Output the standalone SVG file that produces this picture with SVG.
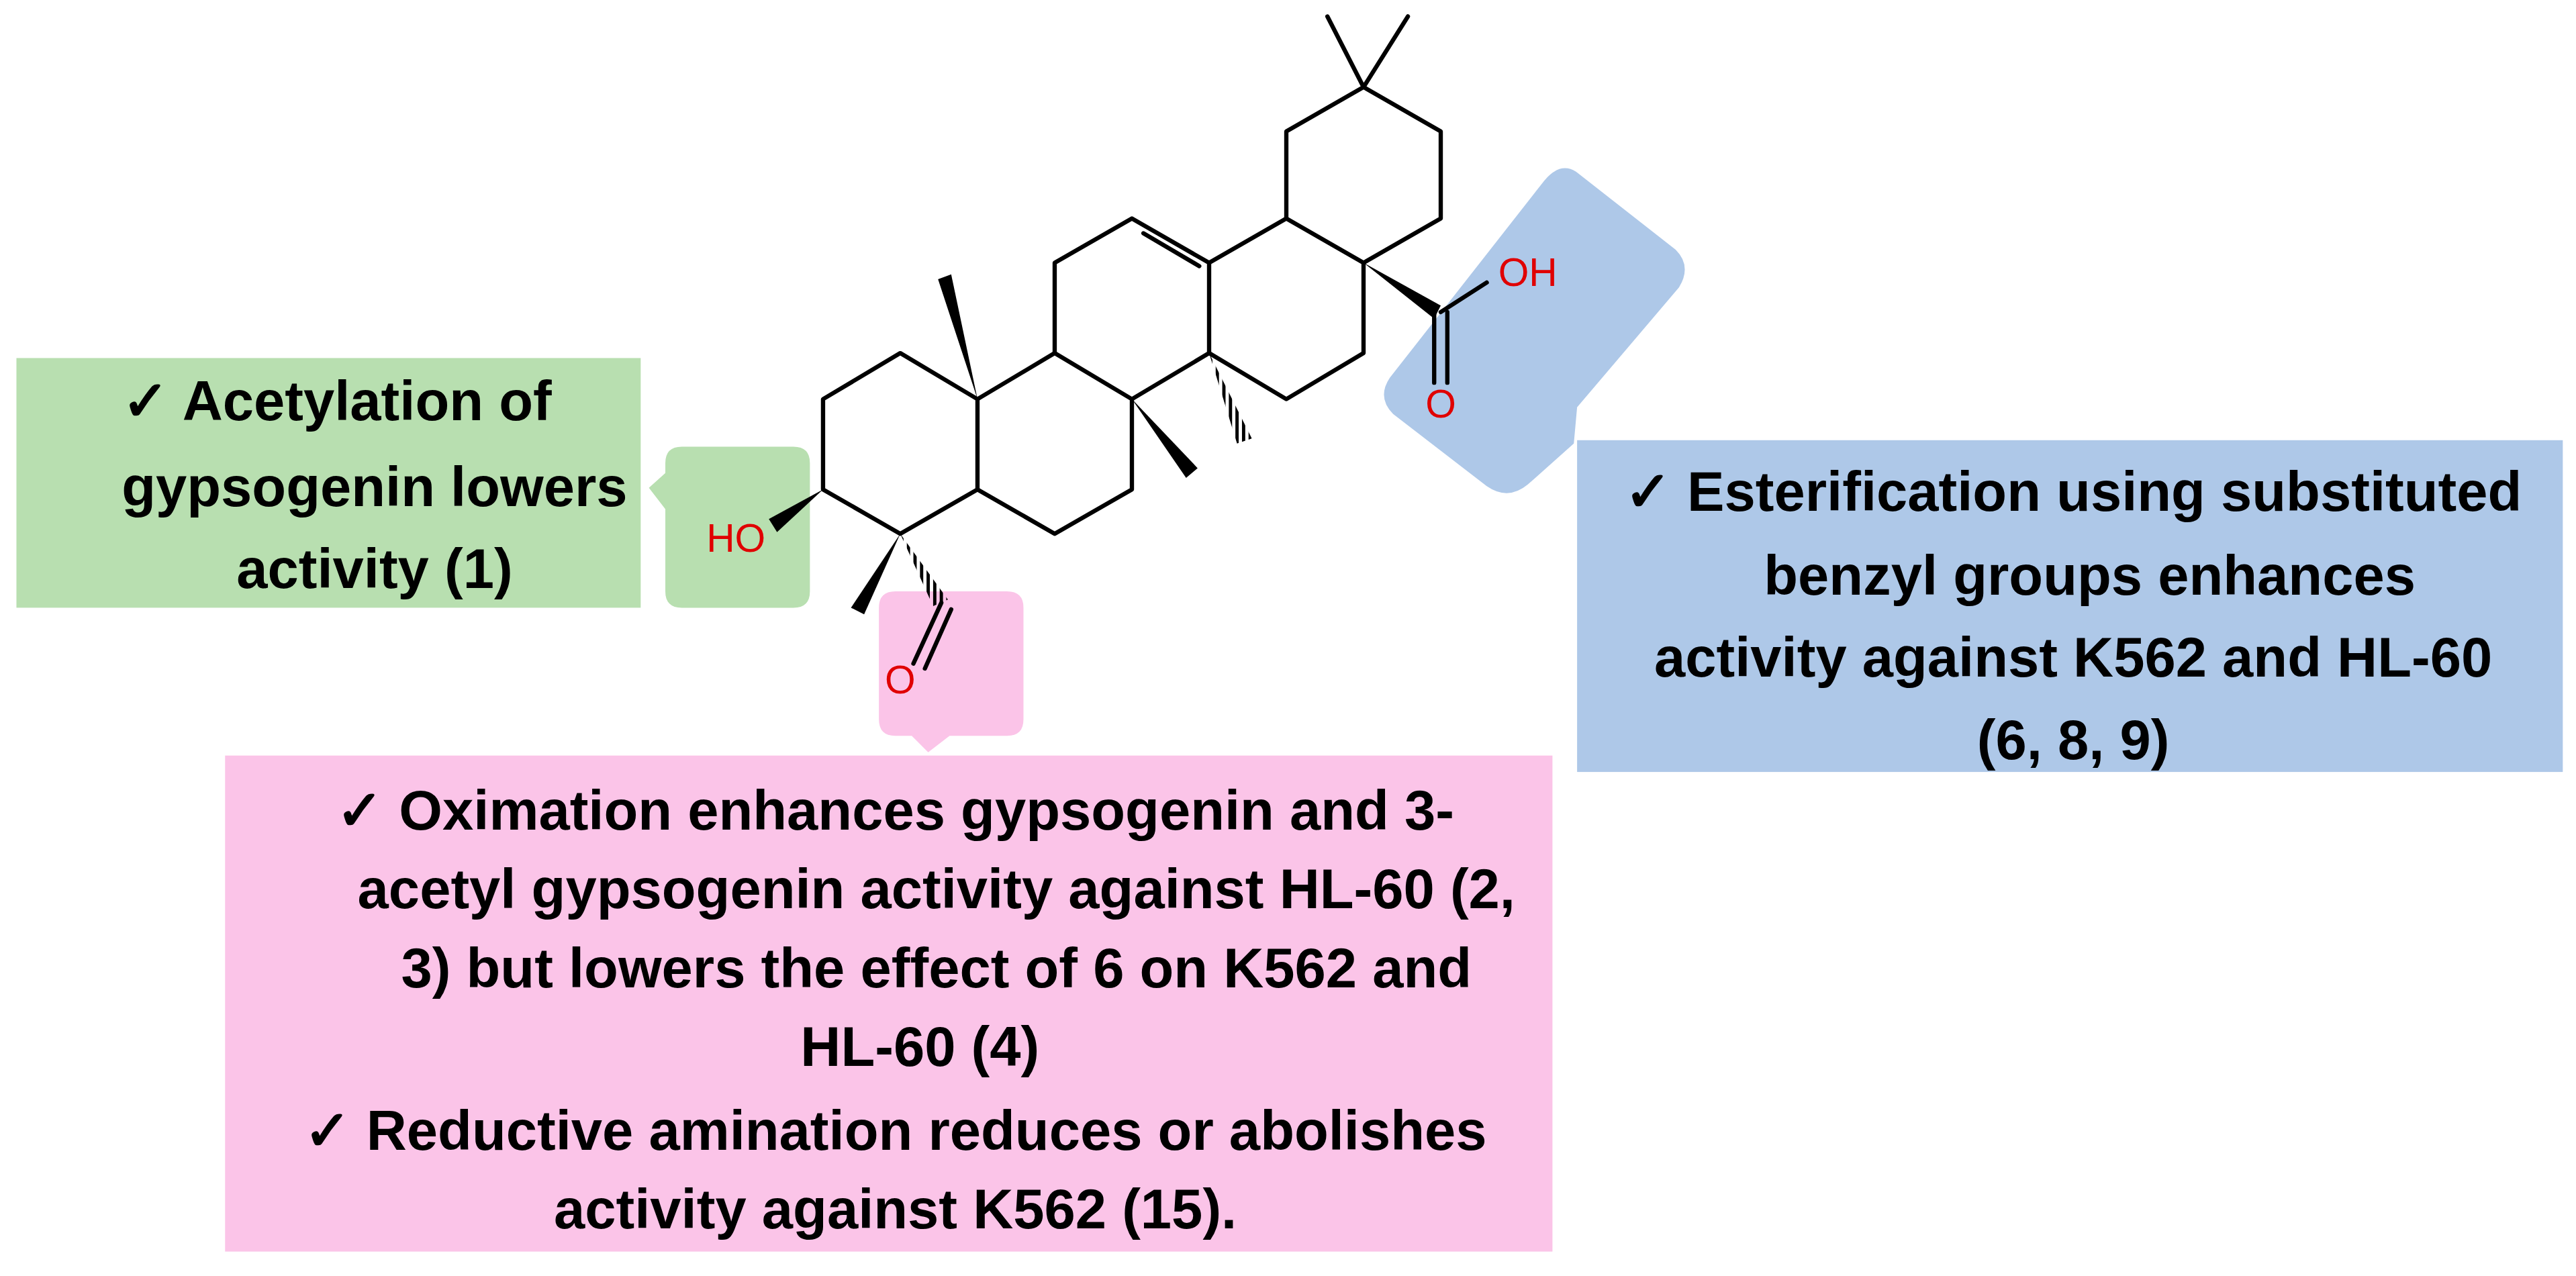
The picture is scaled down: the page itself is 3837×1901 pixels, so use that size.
<svg xmlns="http://www.w3.org/2000/svg" width="3837" height="1901" viewBox="0 0 3837 1901">
<style>
.b{stroke:#000;stroke-width:2.6;fill:none;stroke-linecap:round;stroke-linejoin:round}
.t{font-family:"Liberation Sans",Arial,sans-serif;font-weight:bold;font-size:34px;fill:#000;text-anchor:middle}
.a{font-family:"Liberation Sans",Arial,sans-serif;font-size:24px;fill:#e00000;text-anchor:middle}
</style>
<defs>
<pattern id="h" width="4" height="4" patternUnits="userSpaceOnUse"><rect width="2" height="4" fill="#000"/></pattern>
</defs>
<rect width="3837" height="1901" fill="#fff"/>
<g transform="scale(2.447)">
<g id="green">
<rect x="10" y="218" width="380" height="152" fill="#b8dfb0"/>
<path d="M415,272 H483 Q493,272 493,282 V360 Q493,370 483,370 H415 Q405,370 405,360 V310 L395,297 L405,288 V282 Q405,272 415,272Z" fill="#b8dfb0"/>
<text class="t" x="205" y="256">✓  Acetylation of</text>
<text class="t" x="228" y="308">gypsogenin lowers</text>
<text class="t" x="228" y="358">activity (1)</text>
</g>
<g id="pink">
<path d="M545,360 H613 Q623,360 623,370 V438 Q623,448 613,448 H578 L565,458 L555,448 H545 Q535,448 535,438 V370 Q535,360 545,360Z" fill="#fbc4e8"/>
<rect x="137" y="460" width="808" height="302" fill="#fbc4e8"/>
<text class="t" x="545" y="505">✓  Oximation enhances gypsogenin and 3-</text>
<text class="t" x="570" y="553">acetyl gypsogenin activity against HL-60 (2,</text>
<text class="t" x="570" y="601">3) but lowers the effect of 6 on K562 and</text>
<text class="t" x="560" y="649">HL-60 (4)</text>
<text class="t" x="545" y="700">✓  Reductive amination reduces or abolishes</text>
<text class="t" x="545" y="748">activity against K562 (15).</text>
</g>
<g id="blue">
<path d="M960,105 L1020,152 Q1030,162 1022,175 L960,248 L958,270 L930,295 Q918,305 905,296 L848,252 Q838,242 846,230 L940,110 Q950,98 960,105Z" fill="#aec8e8"/>
<rect x="960" y="268" width="600" height="202" fill="#aec8e8"/>
<text class="t" x="1262" y="311">✓  Esterification using substituted</text>
<text class="t" x="1272" y="362">benzyl groups enhances</text>
<text class="t" x="1262" y="412">activity against K562 and HL-60</text>
<text class="t" x="1262" y="462">(6, 8, 9)</text>
</g>
<g id="molecule">
<path class="b" d="M501,243 L548,215 L595,243 L595,298 L548,325 L501,298 Z"/>
<path class="b" d="M595,243 L642,215 L689,243 L689,298 L642,325 L595,298"/>
<path class="b" d="M642,215 L642,160 L689,133 L736,160 L736,215 L689,243"/>
<path class="b" d="M696,142 L730,162"/>
<path class="b" d="M736,160 L783,133 L830,160 L830,215 L783,243 L736,215"/>
<path class="b" d="M783,133 L783,80 L830,53 L877,80 L877,133 L830,160"/>
<path class="b" d="M830,53 L808,10 M830,53 L857,10"/>
<path d="M501,298 L468,316 L473,324 Z" fill="#000"/>
<text class="a" x="448" y="336">HO</text>
<path d="M548,325 L518,370 L526,374 Z" fill="#000"/>
<path d="M548,325 L568,369 L577,365 Z" fill="url(#h)"/>
<path class="b" d="M573,367 L556,404 M579,371 L563,407"/>
<text class="a" x="548" y="422">O</text>
<path d="M595,243 L571,170 L579,167 Z" fill="#000"/>
<path d="M689,243 L722,291 L729,285 Z" fill="#000"/>
<path d="M736,215 L753,270 L762,267 Z" fill="url(#h)"/>
<path d="M830,160 L877,186 L873,194 Z" fill="#000"/>
<path class="b" d="M877,190 L905,172"/>
<text class="a" x="930" y="174">OH</text>
<path class="b" d="M873,190 L873,233 M881,190 L881,233"/>
<text class="a" x="877" y="254">O</text>
</g>
</g>
</svg>
